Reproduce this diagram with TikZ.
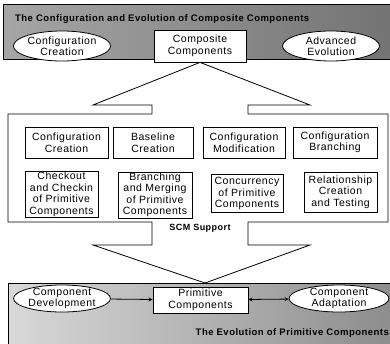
\documentclass[tikz,border=0pt]{standalone}
\usepackage{fontspec}
\setmainfont{Liberation Sans}[LetterSpace=5]
\usetikzlibrary{shapes.geometric}

\begin{document}
\begin{tikzpicture}[x=1pt,y=-1pt,>=stealth,
    every node/.style={font=\fontsize{10.5}{11.5}\selectfont,align=center,inner sep=0pt},
    task/.style={draw,thick,fill=white},
    activity/.style={draw,thick,ellipse,fill=white,inner xsep=0pt,inner ysep=-5pt},
    banner/.style={font=\fontsize{9.5}{11}\selectfont\bfseries}]
  \useasboundingbox (0,0) rectangle (390,343);
  \clip (0,0) rectangle (390,343);

  % upper panel: composite components
  \fill[left color=black!35,right color=black!55] (3,4) rectangle (395,59);
  \draw[thick] (395,4) -- (3,4) -- (3,59) -- (395,59);
  \node[banner,anchor=base west] (toptitle) at (15,21) {The Configuration and Evolution of Composite Components};
  \node[activity,minimum width=95,minimum height=30] (cfgevol) at (62,46) {Configuration\\Creation};
  \node[task,minimum width=92,minimum height=32] (composite) at (200,46) {Composite\\Components};
  \node[activity,minimum width=97,minimum height=30] (advevol) at (331,46) {Advanced\\Evolution};

  % SCM support with the two hollow arrows
  \draw[thick,fill=white] (8,114) -- (152,114) -- (152,105) -- (93,105) -- (composite.south)
    -- (310,105) -- (248,105) -- (248,114) -- (388,114) -- (388,222) -- (248,222)
    -- (248,245) -- (310,245) -- (205,283) -- (93,245) -- (152,245) -- (152,222) -- (8,222) -- cycle;
  \node (scm) at (200,228) {\bfseries\fontsize{9}{10}\selectfont SCM Support};

  \node[task,minimum width=83,minimum height=31] (cfgcreate) at (66.5,142.5) {Configuration\\Creation};
  \node[task,minimum width=80,minimum height=31] (baseline) at (153,142.5) {Baseline\\Creation};
  \node[task,minimum width=82,minimum height=31] (cfgmodify) at (244,142.5) {Configuration\\Modification};
  \node[task,minimum width=84,minimum height=31] (cfgbranch) at (335,142.5) {Configuration\\Branching};

  \node[task,minimum width=73,minimum height=46] (checkout) at (61.5,194.5) {Checkout\\and Checkin\\of Primitive\\Components};
  \node[task,minimum width=74,minimum height=46] (merging) at (155,195) {Branching\\and Merging\\of Primitive\\Components};
  \node[task,minimum width=72,minimum height=38] (concur) at (247,193.5) {Concurrency\\of Primitive\\Components};
  \node[task,minimum width=73,minimum height=40] (relation) at (340.5,192) {Relationship\\Creation\\and Testing};

  % lower panel: primitive components
  \fill[left color=black!15,right color=black!45] (8,283) rectangle (395,350);
  \draw[thick] (395,283) -- (8,283) -- (8,350);
  \node[activity,minimum width=97,minimum height=27] (compdev) at (62,298.5) {Component\\Development};
  \node[task,minimum width=95,minimum height=26] (primitive) at (200.5,300) {Primitive\\Components};
  \node[activity,minimum width=100,minimum height=27] (compadapt) at (339,298.5) {Component\\Adaptation};
  \node[banner,anchor=base east] (bottitle) at (389,335) {The Evolution of Primitive Components};

  \draw[->,thick] (compdev) -- (primitive);
  \draw[<->,thick] (primitive) -- (compadapt);
\end{tikzpicture}
\end{document}
